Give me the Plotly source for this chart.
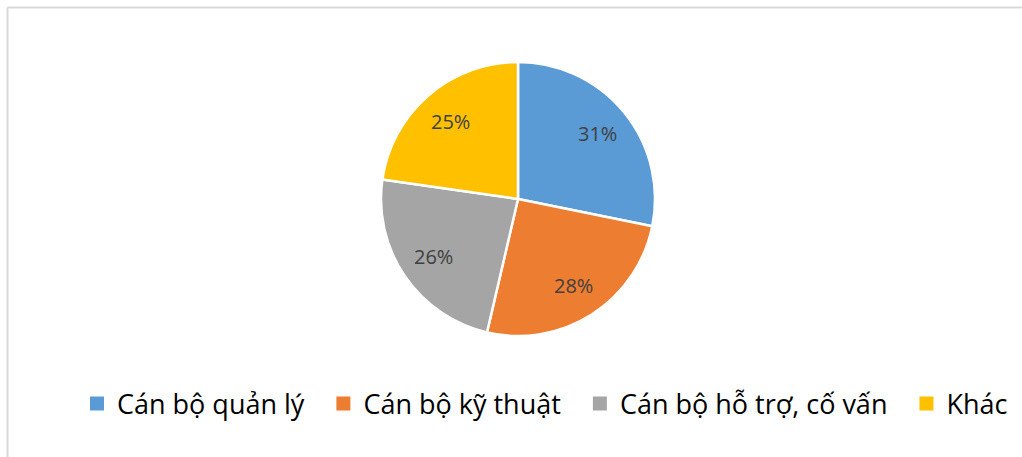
import math
import plotly.graph_objects as go

categories = ["Cán bộ quản lý", "Cán bộ kỹ thuật", "Cán bộ hỗ trợ, cố vấn", "Khác"]
values = [31, 28, 26, 25]
labels_text = [f"{v}%" for v in values]
colors = ["#5B9BD5", "#ED7D31", "#A5A5A5", "#FFC000"]

W, H = 1022, 457
cx, cy, r = 518, 199, 137
label_radius = 0.75

fig = go.Figure()
fig.add_trace(go.Pie(
    labels=categories,
    values=values,
    textinfo="none",
    sort=False,
    direction="clockwise",
    rotation=0,
    marker=dict(colors=colors, line=dict(color="white", width=2.5)),
    domain=dict(x=[(cx - r) / W, (cx + r) / W], y=[1 - (cy + r) / H, 1 - (cy - r) / H]),
    hoverinfo="label+percent",
    showlegend=False,
))

# legend entries (square markers)
for i, (name, col) in enumerate(zip(categories, colors)):
    fig.add_trace(go.Scatter(
        x=[None], y=[None], mode="markers", name=name + ("\u00a0\u00a0" if i < len(categories) - 1 else ""),
        marker=dict(symbol="square", size=14, color=col),
        showlegend=True, hoverinfo="skip",
    ))

# percentage labels placed at the middle angle of each slice
total = sum(values)
annotations = []
cum = 0
for v, t in zip(values, labels_text):
    mid = (cum + v / 2) / total * 2 * math.pi
    cum += v
    px = cx + label_radius * r * math.sin(mid)
    py = cy - label_radius * r * math.cos(mid)
    annotations.append(dict(
        x=px / W, y=1 - py / H, xref="paper", yref="paper", text=t, showarrow=False,
        xanchor="center", yanchor="middle",
        font=dict(family="Open Sans", size=20, color="#404040"),
    ))

fig.update_layout(
    width=W, height=H,
    margin=dict(l=0, r=0, t=0, b=0),
    paper_bgcolor="white",
    plot_bgcolor="white",
    xaxis=dict(visible=False),
    yaxis=dict(visible=False),
    showlegend=True,
    legend=dict(
        orientation="h",
        x=545 / W, xanchor="center",
        y=1 - 404 / H, yanchor="middle",
        font=dict(family="Open Sans", size=27, color="#000000"),
        itemclick=False,
        bgcolor="rgba(0,0,0,0)",
    ),
    annotations=annotations,
    shapes=[
        dict(type="line", xref="paper", yref="paper", x0=7.5 / W, x1=1.0, y0=1 - 7.5 / H, y1=1 - 7.5 / H,
             line=dict(color="#D9D9D9", width=2)),
        dict(type="line", xref="paper", yref="paper", x0=7.5 / W, x1=7.5 / W, y0=0, y1=1 - 7.5 / H,
             line=dict(color="#D9D9D9", width=2)),
    ],
)

fig.write_html("out.html")
